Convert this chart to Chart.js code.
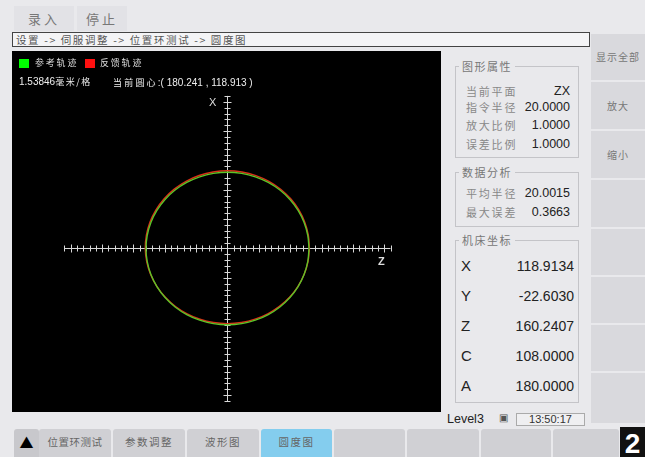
<!DOCTYPE html>
<html><head><meta charset="utf-8">
<script src="https://cdn.jsdelivr.net/npm/chart.js@4/dist/chart.umd.min.js"></script>
<style>
*{margin:0;padding:0;box-sizing:border-box}
body{width:645px;height:457px;overflow:hidden;background:#e9e9ec;font-family:"Noto Sans CJK SC","Noto Sans",sans-serif;position:relative}
.abs{position:absolute}
.cn{font-family:"Noto Sans CJK SC",sans-serif}
.num{font-family:"Liberation Sans",Arial,sans-serif}
.topbtn{top:6px;height:25px;background:#e2e2e6;color:#777;font-size:13px;line-height:25px;text-align:center;letter-spacing:3px}
#crumb{left:12px;top:32px;width:578px;height:15px;border:1px solid #444;background:#f4f4f6;font-size:10.5px;line-height:13px;color:#555;padding-left:3px;white-space:nowrap;letter-spacing:1.6px}
#plot{left:12px;top:51px;width:429px;height:361px;background:#000}
.legtxt{color:#ddd;font-size:9px;line-height:10px;letter-spacing:1.8px}
.grp{border:1px solid #c4c4c8;left:455px;width:124px}
.gtitle{background:#e9e9ec;color:#777;font-size:11px;padding:0 3px;line-height:14px;letter-spacing:1.5px}
.lab{color:#888;font-size:11px;line-height:14px;letter-spacing:1.8px}
.val{color:#222;font-size:12.5px;line-height:14px;text-align:right;width:80px}
.clab{color:#222;font-size:15px;line-height:18px}
.cval{color:#222;font-size:14px;line-height:18px;text-align:right;width:90px}
.rbtn{left:591px;width:54px;background:#d9d9dd;color:#777;font-size:10px;text-align:center;letter-spacing:1px}
.tab{top:429px;height:28px;background:#d0d0d4;color:#666;font-size:10.5px;line-height:26px;text-align:center;border-radius:3px 3px 0 0;letter-spacing:1.5px}
</style></head>
<body>
<div class="abs topbtn cn" style="left:14px;width:60px">录入</div>
<div class="abs topbtn cn" style="left:77px;width:50px">停止</div>
<div id="crumb" class="abs cn">设置 -&gt; 伺服调整 -&gt; 位置环测试 -&gt; 圆度图</div>

<div id="plot" class="abs"><canvas id="c" width="429" height="361"></canvas></div>
<div class="abs" style="left:19px;top:59px;width:10px;height:9px;background:#00ff00"></div>
<div class="abs legtxt cn" style="left:35px;top:58px">参考轨迹</div>
<div class="abs" style="left:85px;top:59px;width:10px;height:9px;background:#ff1010"></div>
<div class="abs legtxt cn" style="left:100px;top:58px">反馈轨迹</div>
<div class="abs legtxt num" style="left:19px;top:76px;font-size:10px;line-height:12px;color:#eee;letter-spacing:0">1.53846<span class="cn" style="font-size:9px;letter-spacing:1.5px">毫米/格</span></div>
<div class="abs legtxt" style="left:113px;top:76px;font-size:10px;line-height:12px;color:#eee;letter-spacing:0"><span class="cn" style="font-size:9px;letter-spacing:2.2px">当前圆心</span><span class="num">:( 180.241 , 118.913 )</span></div>
<div class="abs num" style="left:209px;top:96px;color:#ddd;font-size:11px">X</div>
<div class="abs num" style="left:378px;top:255px;color:#ddd;font-size:11px;font-weight:bold">Z</div>

<!-- group 1 -->
<div class="abs grp" style="top:66px;height:92px"></div>
<div class="abs gtitle cn" style="left:459px;top:59px">图形属性</div>
<div class="abs lab cn" style="left:466px;top:84px">当前平面</div><div class="abs val num" style="left:490px;top:84px">ZX</div>
<div class="abs lab cn" style="left:466px;top:100px">指令半径</div><div class="abs val num" style="left:490px;top:100px">20.0000</div>
<div class="abs lab cn" style="left:466px;top:118px">放大比例</div><div class="abs val num" style="left:490px;top:118px">1.0000</div>
<div class="abs lab cn" style="left:466px;top:137px">误差比例</div><div class="abs val num" style="left:490px;top:137px">1.0000</div>
<!-- group 2 -->
<div class="abs grp" style="top:172px;height:55px"></div>
<div class="abs gtitle cn" style="left:459px;top:165px">数据分析</div>
<div class="abs lab cn" style="left:466px;top:186px">平均半径</div><div class="abs val num" style="left:490px;top:186px">20.0015</div>
<div class="abs lab cn" style="left:466px;top:205px">最大误差</div><div class="abs val num" style="left:490px;top:205px">0.3663</div>
<!-- group 3 -->
<div class="abs grp" style="top:240px;height:163px"></div>
<div class="abs gtitle cn" style="left:459px;top:233px">机床坐标</div>
<div class="abs clab num" style="left:461px;top:257px">X</div><div class="abs cval num" style="left:484px;top:257px">118.9134</div>
<div class="abs clab num" style="left:461px;top:287px">Y</div><div class="abs cval num" style="left:484px;top:287px">-22.6030</div>
<div class="abs clab num" style="left:461px;top:317px">Z</div><div class="abs cval num" style="left:484px;top:317px">160.2407</div>
<div class="abs clab num" style="left:461px;top:347px">C</div><div class="abs cval num" style="left:484px;top:347px">108.0000</div>
<div class="abs clab num" style="left:461px;top:377px">A</div><div class="abs cval num" style="left:484px;top:377px">180.0000</div>

<div class="abs num" style="left:447px;top:412px;font-size:12.5px;color:#222">Level3</div>
<div class="abs num" style="left:499px;top:412px;font-size:10px;color:#555">&#9635;</div>
<div class="abs num" style="left:516px;top:413px;width:69px;height:13px;border:1px solid #aaa;background:#efeff1;font-size:11px;line-height:11px;text-align:center;color:#333">13:50:17</div>

<!-- right buttons -->
<div class="abs rbtn cn" style="top:34px;height:46px;line-height:46px;">显示全部</div>
<div class="abs rbtn cn" style="top:82px;height:47px;line-height:47px">放大</div>
<div class="abs rbtn cn" style="top:131px;height:47px;line-height:47px">缩小</div>
<div class="abs rbtn" style="top:180px;height:47px"></div>
<div class="abs rbtn" style="top:229px;height:46px"></div>
<div class="abs rbtn" style="top:277px;height:46px"></div>
<div class="abs rbtn" style="top:325px;height:46px"></div>
<div class="abs rbtn" style="top:373px;height:50px"></div>

<!-- tabs -->
<div class="abs tab" style="left:14px;width:25px;background:#c8c8cc;color:#000;font-size:14px;letter-spacing:0">&#9650;</div>
<div class="abs tab cn" style="left:39px;width:72px;letter-spacing:0.5px">位置环测试</div>
<div class="abs tab cn" style="left:113px;width:72px">参数调整</div>
<div class="abs tab cn" style="left:187px;width:72px">波形图</div>
<div class="abs tab cn" style="left:261px;width:71px;background:#84cdee">圆度图</div>
<div class="abs tab" style="left:334px;width:71px"></div>
<div class="abs tab" style="left:407px;width:72px"></div>
<div class="abs tab" style="left:481px;width:70px"></div>
<div class="abs tab" style="left:553px;width:66px"></div>
<div class="abs num" style="left:620px;top:427px;width:25px;height:30px;background:#111;color:#fff;font-size:28px;font-weight:bold;line-height:34px;text-align:center">2</div>

<script>
// ---- data ----
const gridStep = 1.53846;          // mm per grid (from label)
const gridCount = 26;              // grid marks per half axis
const angleDeg = [0,10,20,30,40,50,60,70,80,90,100,110,120,130,140,150,160,170,180,190,200,210,220,230,240,250,260,270,280,290,300,310,320,330,340,350,360];
const refRadius = [20,20,20,20,20,20,20,20,20,20,20,20,20,20,20,20,20,20,20,20,20,20,20,20,20,20,20,20,20,20,20,20,20,20,20,20,20];
const fbRadius = [20.10,20.14,20.18,20.22,20.26,20.30,20.33,20.35,20.36,20.37,20.37,20.36,20.35,20.33,20.30,20.27,20.24,20.21,20.18,20.12,20.05,19.98,19.91,19.85,19.79,19.74,19.71,19.70,19.70,19.72,19.76,19.81,19.87,19.94,20.00,20.05,20.10];

function toXY(rad){ return angleDeg.map((a,i)=>({x: rad[i]*Math.cos(a*Math.PI/180), y: rad[i]*Math.sin(a*Math.PI/180)})); }

const axesPlugin = {
  id:'cross',
  beforeDatasetsDraw(chart){
    const xs=chart.scales.x, ys=chart.scales.y, ctx=chart.ctx;
    const half=gridStep*gridCount;
    const cx=Math.round(xs.getPixelForValue(0))+0.5, cy=Math.round(ys.getPixelForValue(0))+0.5;
    ctx.save(); ctx.strokeStyle='#d8d8d8'; ctx.lineWidth=1;
    ctx.beginPath();
    ctx.moveTo(xs.getPixelForValue(-half),cy); ctx.lineTo(xs.getPixelForValue(half),cy);
    ctx.moveTo(cx,ys.getPixelForValue(-half)); ctx.lineTo(cx,ys.getPixelForValue(half));
    for(let i=-gridCount;i<=gridCount;i++){
      const px=Math.round(xs.getPixelForValue(i*gridStep))+0.5;
      const py=Math.round(ys.getPixelForValue(i*gridStep))+0.5;
      const l = (i%5===0)?4:3;
      ctx.moveTo(px,cy-l); ctx.lineTo(px,cy+l);
      ctx.moveTo(cx-l,py); ctx.lineTo(cx+l,py);
    }
    ctx.stroke(); ctx.restore();
  }
};

new Chart(document.getElementById('c'),{
  type:'scatter',
  data:{datasets:[
    {label:'参考轨迹',data:toXY(refRadius),showLine:true,borderColor:'#5cc428',borderWidth:1.4,pointRadius:0,tension:0.4,fill:false},
    {label:'反馈轨迹',data:toXY(fbRadius),showLine:true,borderColor:'#d83018',borderWidth:1.4,pointRadius:0,tension:0.4,fill:false}
  ]},
  options:{
    responsive:false,animation:false,devicePixelRatio:1,
    layout:{padding:0},
    plugins:{legend:{display:false},tooltip:{enabled:false}},
    scales:{
      x:{type:'linear',display:false,min:-52.88,max:52.39},
      y:{type:'linear',display:false,min:-42.86,max:51.77}
    }
  },
  plugins:[axesPlugin]
});
</script>
</body></html>
